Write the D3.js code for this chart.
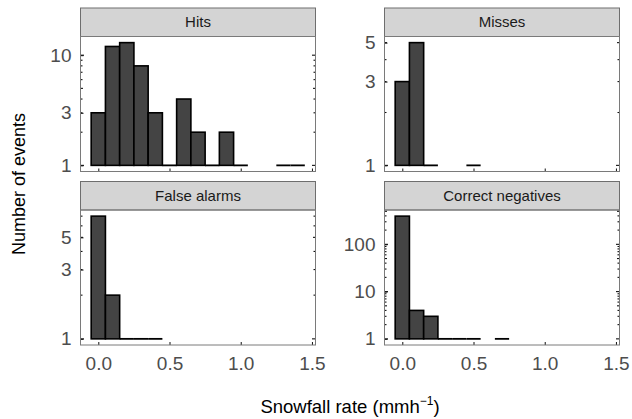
<!DOCTYPE html>
<html>
<head>
<meta charset="utf-8">
<script src="https://cdn.jsdelivr.net/npm/d3@7"></script>
<style>
  body { margin: 0; background: #fff; }
  svg { display: block; font-family: "Liberation Sans", Arial, sans-serif; }
</style>
</head>
<body>
<svg id="chart" width="632" height="419"></svg>
<script>
// bin centres (mm/h), bin width 0.1
const binCenters = [0.0, 0.1, 0.2, 0.3, 0.4, 0.5, 0.6, 0.7, 0.8, 0.9, 1.0, 1.1, 1.2, 1.3, 1.4];
const binWidth = 0.1;

// counts per bin, 0 = empty bin
const hits           = [3, 12, 13, 8, 3, 1, 4, 2, 1, 2, 1, 0, 0, 1, 1];
const misses         = [3, 5, 1, 0, 0, 1, 0, 0, 0, 0, 0, 0, 0, 0, 0];
const falseAlarms    = [7, 2, 1, 1, 1, 0, 0, 0, 0, 0, 0, 0, 0, 0, 0];
const correctNegs    = [395, 4, 3, 1, 1, 1, 0, 1, 0, 0, 0, 0, 0, 0, 0];

const panelTitles = ['Hits', 'Misses', 'False alarms', 'Correct negatives'];
const panelCounts = [hits, misses, falseAlarms, correctNegs];
const yBreaks = [[1, 3, 10], [1, 3, 5], [1, 3, 5], [1, 10, 100]];
const xBreaks = [0, 0.5, 1.0, 1.5];
const xTickLabels = ['0.0', '0.5', '1.0', '1.5'];

const svg = d3.select('#chart');

const colX = [80.5, 384.5];
const panelW = 235;
const rowY = [8, 181.5];
const stripH = 28.5;
const panelH = 135;

const x = d3.scaleLinear().domain([-0.125, 1.525]).range([0, panelW]);

panelTitles.forEach((title, i) => {
  const col = i % 2, row = Math.floor(i / 2);
  const counts = panelCounts[i];
  const g = svg.append('g').attr('transform', `translate(${colX[col]},${rowY[row]})`);

  // strip
  g.append('rect')
    .attr('x', 0).attr('y', 0)
    .attr('width', panelW).attr('height', stripH)
    .attr('fill', '#d4d4d4')
    .attr('stroke', '#6e6e6e')
    .attr('stroke-width', 1);
  g.append('text')
    .attr('x', panelW / 2).attr('y', stripH / 2 + 5)
    .attr('text-anchor', 'middle')
    .attr('font-size', 15)
    .attr('fill', '#1a1a1a')
    .text(title);

  const p = g.append('g').attr('transform', `translate(0,${stripH})`);

  // log y scale with ggplot-like 5% expansion
  const top = Math.log10(d3.max(counts));
  const pad = top * 0.05;
  const y = d3.scaleLinear().domain([-pad, top + pad]).range([panelH, 0]);
  const yv = v => y(Math.log10(v));

  // bars (count 1 has zero height on a log axis -> flat line)
  const bars = binCenters.map((c, k) => ({ c, n: counts[k] })).filter(d => d.n > 1);
  const flats = binCenters.map((c, k) => ({ c, n: counts[k] })).filter(d => d.n === 1);
  p.selectAll('rect.bar')
    .data(bars)
    .join('rect')
    .attr('class', 'bar')
    .attr('x', d => x(d.c - binWidth / 2))
    .attr('width', d => x(d.c + binWidth / 2) - x(d.c - binWidth / 2))
    .attr('y', d => yv(d.n))
    .attr('height', d => yv(1) - yv(d.n))
    .attr('fill', '#444444')
    .attr('stroke', '#000')
    .attr('stroke-width', 1.6);
  p.selectAll('line.flat')
    .data(flats)
    .join('line')
    .attr('class', 'flat')
    .attr('x1', d => x(d.c - binWidth / 2))
    .attr('x2', d => x(d.c + binWidth / 2))
    .attr('y1', yv(1)).attr('y2', yv(1))
    .attr('stroke', '#000')
    .attr('stroke-width', 1.8);

  // log ticks on left and right, pointing inward
  const logTicks = [];
  const maxDec = Math.ceil(top + pad);
  for (let dcd = 0; dcd <= maxDec; dcd++) {
    for (let m = 1; m <= 9; m++) {
      const v = m * Math.pow(10, dcd);
      const lv = Math.log10(v);
      if (lv >= -pad && lv <= top + pad) logTicks.push({ v, len: m === 1 ? 3.5 : (m === 5 ? 2.5 : 2) });
    }
  }
  p.selectAll('line.lt')
    .data(logTicks)
    .join('line')
    .attr('class', 'lt')
    .attr('x1', 0).attr('x2', d => d.len)
    .attr('y1', d => yv(d.v)).attr('y2', d => yv(d.v))
    .attr('stroke', '#111').attr('stroke-width', 1.1);
  p.selectAll('line.rt')
    .data(logTicks)
    .join('line')
    .attr('class', 'rt')
    .attr('x1', panelW).attr('x2', d => panelW - d.len)
    .attr('y1', d => yv(d.v)).attr('y2', d => yv(d.v))
    .attr('stroke', '#111').attr('stroke-width', 1.1);

  // y axis labels
  const yAxis = d3.axisLeft(y)
    .tickValues(yBreaks[i].map(v => Math.log10(v)))
    .tickFormat(v => String(Math.round(Math.pow(10, v))))
    .tickSize(-3)
    .tickPadding(9);
  const ya = p.append('g').call(yAxis);
  ya.select('.domain').remove();
  ya.selectAll('line').attr('stroke', '#111');
  ya.selectAll('text').attr('font-size', 19).attr('fill', '#4d4d4d').attr('font-family', null);

  // x axis ticks (inside), labels only on bottom row
  const xAxis = d3.axisBottom(x)
    .tickValues(xBreaks)
    .tickFormat((d, k) => row === 1 ? xTickLabels[k] : '')
    .tickSize(-3)
    .tickPadding(12);
  const xa = p.append('g').attr('transform', `translate(0,${panelH})`).call(xAxis);
  xa.select('.domain').remove();
  xa.selectAll('line').attr('stroke', '#111');
  xa.selectAll('text').attr('font-size', 19).attr('fill', '#4d4d4d').attr('font-family', null);

  // panel border
  p.append('rect')
    .attr('x', 0).attr('y', 0)
    .attr('width', panelW).attr('height', panelH)
    .attr('fill', 'none')
    .attr('stroke', '#7a7a7a')
    .attr('stroke-width', 1);
});

// axis titles
svg.append('text')
  .attr('transform', 'translate(25,184) rotate(-90)')
  .attr('text-anchor', 'middle')
  .attr('font-size', 18)
  .attr('fill', '#000')
  .text('Number of events');

const xt = svg.append('text')
  .attr('x', 350).attr('y', 413)
  .attr('text-anchor', 'middle')
  .attr('font-size', 18.5)
  .attr('fill', '#000');
xt.append('tspan').text('Snowfall rate (mmh');
xt.append('tspan').attr('font-size', 12).attr('dy', -8).text('\u22121');
xt.append('tspan').attr('dy', 8).text(')');
</script>
</body>
</html>
